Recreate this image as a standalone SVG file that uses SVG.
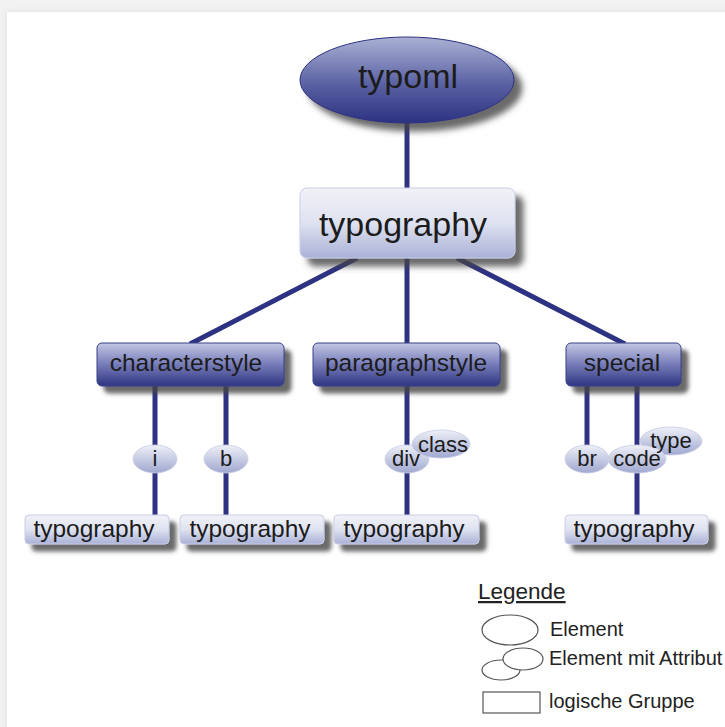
<svg xmlns="http://www.w3.org/2000/svg" width="725" height="727" viewBox="0 0 725 727">
<defs>
<linearGradient id="gTop" x1="0" y1="0" x2="0" y2="1">
<stop offset="0" stop-color="#aab1d4"/><stop offset="0.55" stop-color="#5a61a3"/><stop offset="1" stop-color="#2c3281"/>
</linearGradient>
<linearGradient id="gLight" x1="0" y1="0" x2="0" y2="1">
<stop offset="0" stop-color="#f1f2f8"/><stop offset="0.5" stop-color="#dfe2f0"/><stop offset="1" stop-color="#a9b1d7"/>
</linearGradient>
<linearGradient id="gMid" x1="0" y1="0" x2="0" y2="1">
<stop offset="0" stop-color="#c3c7e4"/><stop offset="0.45" stop-color="#7d83bd"/><stop offset="1" stop-color="#2f3582"/>
</linearGradient>
<linearGradient id="gEl" x1="0" y1="0" x2="0" y2="1">
<stop offset="0" stop-color="#eef0f7"/><stop offset="1" stop-color="#a0a8d0"/>
</linearGradient>
<filter id="sh" x="-20%" y="-30%" width="150%" height="180%">
<feDropShadow dx="8" dy="8" stdDeviation="3" flood-color="#444" flood-opacity="0.8"/>
</filter>
<filter id="shS" x="-20%" y="-30%" width="150%" height="180%">
<feDropShadow dx="7" dy="7" stdDeviation="2" flood-color="#444" flood-opacity="0.8"/>
</filter>
<filter id="panel" x="-5%" y="-5%" width="110%" height="110%">
<feDropShadow dx="0" dy="0" stdDeviation="3" flood-color="#000" flood-opacity="0.08"/>
</filter>
</defs>
<style>
text{font-family:"Liberation Sans",Arial,sans-serif;fill:#1c1c1c;text-anchor:middle}
.c{stroke:#2e3283;stroke-width:5;fill:none}
.bx1{fill:url(#gLight);stroke:#c9cde5;stroke-width:1}
.bx2{fill:url(#gMid);stroke:#3a4088;stroke-width:1}
.el{fill:url(#gEl);stroke:#c9cde5;stroke-width:0.8}
.lg{fill:none;stroke:#555;stroke-width:1.2}
.lt{text-anchor:start;font-size:20px;fill:#222}
</style>
<rect x="0" y="0" width="725" height="727" fill="#f2f2f2"/>
<rect x="7" y="12" width="730" height="730" fill="#fff" filter="url(#panel)"/>

<g id="connectors">
<line class="c" x1="407" y1="120" x2="407" y2="190"/>
<line class="c" x1="357" y1="258" x2="190" y2="344"/>
<line class="c" x1="407" y1="258" x2="407" y2="344"/>
<line class="c" x1="457" y1="258" x2="625" y2="344"/>
<line class="c" x1="155" y1="385" x2="155" y2="516"/>
<line class="c" x1="226" y1="385" x2="226" y2="516"/>
<line class="c" x1="407" y1="385" x2="407" y2="516"/>
<line class="c" x1="587" y1="385" x2="587" y2="450"/>
<line class="c" x1="637" y1="385" x2="637" y2="516"/>
</g>

<g id="typoml">
<ellipse cx="407" cy="80" rx="107" ry="43" fill="url(#gTop)" stroke="#2e3283" stroke-width="1" filter="url(#sh)"/>
<text x="408" y="88" font-size="34">typoml</text>
</g>
<g id="typography">
<rect x="300" y="188" width="215" height="70" rx="7" class="bx1" filter="url(#sh)"/>
<text x="403" y="236" font-size="34">typography</text>
</g>
<g id="characterstyle">
<rect x="97" y="343" width="187" height="43" rx="5" class="bx2" filter="url(#shS)"/>
<text x="186" y="371" font-size="24.5">characterstyle</text>
</g>
<g id="paragraphstyle">
<rect x="313" y="343" width="187" height="43" rx="5" class="bx2" filter="url(#shS)"/>
<text x="406" y="371" font-size="24.5">paragraphstyle</text>
</g>
<g id="special">
<rect x="566" y="343" width="115" height="43" rx="5" class="bx2" filter="url(#shS)"/>
<text x="622" y="371" font-size="24.5">special</text>
</g>

<g id="i">
<ellipse cx="155" cy="459" rx="22" ry="14" class="el"/>
<text x="155" y="466" font-size="22">i</text>
</g>
<g id="b">
<ellipse cx="226" cy="459" rx="22" ry="14" class="el"/>
<text x="226" y="466" font-size="22">b</text>
</g>
<g id="div">
<ellipse cx="407" cy="459" rx="22" ry="14" class="el"/>
<ellipse cx="441" cy="444" rx="29" ry="14" class="el"/>
<text x="406" y="466" font-size="22">div</text>
<text x="443" y="452" font-size="22">class</text>
</g>
<g id="br">
<ellipse cx="587" cy="459" rx="22" ry="14" class="el"/>
<text x="587" y="466" font-size="22">br</text>
</g>
<g id="code">
<ellipse cx="671" cy="441" rx="31" ry="14" class="el"/>
<ellipse cx="637" cy="459" rx="29" ry="14" class="el"/>
<text x="671" y="448" font-size="22">type</text>
<text x="637" y="466" font-size="22">code</text>
</g>

<g id="typography1">
<rect x="25" y="515" width="144" height="29" rx="4" class="bx1" filter="url(#shS)"/>
<text x="94" y="537" font-size="24.5">typography</text>
</g>
<g id="typography2">
<rect x="180" y="515" width="144" height="29" rx="4" class="bx1" filter="url(#shS)"/>
<text x="250" y="537" font-size="24.5">typography</text>
</g>
<g id="typography3">
<rect x="334" y="515" width="145" height="29" rx="4" class="bx1" filter="url(#shS)"/>
<text x="404" y="537" font-size="24.5">typography</text>
</g>
<g id="typography4">
<rect x="565" y="515" width="143" height="29" rx="4" class="bx1" filter="url(#shS)"/>
<text x="634" y="537" font-size="24.5">typography</text>
</g>

<g id="legend">
<text x="478" y="599" font-size="22.5" style="text-anchor:start;text-decoration:underline;fill:#222">Legende</text>
<ellipse cx="510" cy="630" rx="28" ry="15" class="lg"/>
<text x="550" y="636" class="lt">Element</text>
<ellipse cx="501" cy="670" rx="19" ry="10" class="lg"/>
<ellipse cx="523" cy="659" rx="20" ry="11" fill="#fff" stroke="#555" stroke-width="1.2"/>
<text x="549" y="665" class="lt">Element mit Attribut</text>
<rect x="483" y="692" width="57" height="21" class="lg"/>
<text x="549" y="708" class="lt">logische Gruppe</text>
</g>
</svg>
